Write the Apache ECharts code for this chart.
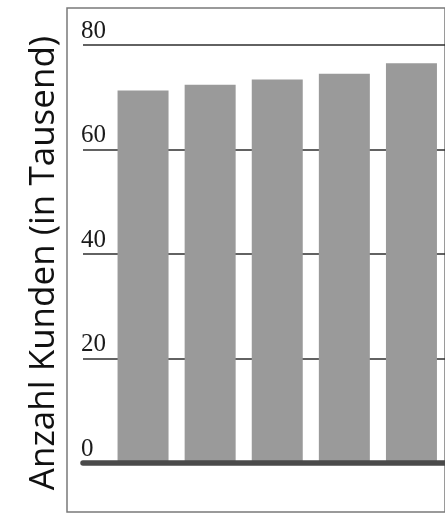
<!DOCTYPE html>
<html><head><meta charset="utf-8">
<script src="https://cdn.jsdelivr.net/npm/echarts@6/dist/echarts.min.js"></script>
<style>html,body{margin:0;padding:0;background:#fff}#c{width:445px;height:514px}</style>
</head><body><div id="c"></div>
<script>
const categories = ['1', '2', '3', '4', '5'];
const customers = [71.3, 72.4, 73.4, 74.5, 76.5];
const yTicks = [0, 20, 40, 60, 80];
const yTitle = 'Anzahl Kunden (in Tausend)';

const yMin = yTicks[0], yMax = yTicks[yTicks.length - 1], yStep = yTicks[1] - yTicks[0];
const chart = echarts.init(document.getElementById('c'), null, {renderer: 'canvas'});
chart.setOption({
  animation: false,
  backgroundColor: '#fff',
  grid: [
    {left: 67, top: 8, right: -20, bottom: 2, show: true, borderColor: '#7a7a7a', borderWidth: 1.5, backgroundColor: 'transparent'},
    {left: 83, top: 45, right: -30, bottom: 51},
    {left: 109.5, top: 45, width: 340, bottom: 51}
  ],
  xAxis: [
    {gridIndex: 0, type: 'value', show: false},
    {gridIndex: 1, type: 'value', min: 0, max: 1, z: 10,
     axisLine: {show: true, lineStyle: {color: '#4a4a4a', width: 5.5}},
     axisTick: {show: false}, axisLabel: {show: false}, splitLine: {show: false}},
    {gridIndex: 2, type: 'category', data: categories, show: false}
  ],
  yAxis: [
    {gridIndex: 0, type: 'value', show: false},
    {gridIndex: 1, type: 'value', min: yMin, max: yMax, interval: yStep,
     axisLine: {show: false}, axisTick: {show: false},
     splitLine: {show: true, lineStyle: {color: '#2e2e2e', width: 1.5}},
     axisLabel: {align: 'left', verticalAlign: 'bottom', margin: 2, color: '#1a1a1a',
                 fontFamily: '"Liberation Serif", serif', fontSize: 25, lineHeight: 25,
                 padding: [0, 0, 1.5, 0]}},
    {gridIndex: 2, type: 'value', min: yMin, max: yMax, show: false, splitLine: {show: false}}
  ],
  graphic: [{
    type: 'text', x: 44, y: 263, rotation: Math.PI / 2,
    style: {text: yTitle, fontFamily: '"Open Sans", sans-serif', fontSize: 35, fill: '#111',
            align: 'center', verticalAlign: 'middle'}
  }],
  series: [{
    type: 'bar', xAxisIndex: 2, yAxisIndex: 2, data: customers, barWidth: 51,
    itemStyle: {color: '#9a9a9a'}
  }]
});
</script></body></html>
